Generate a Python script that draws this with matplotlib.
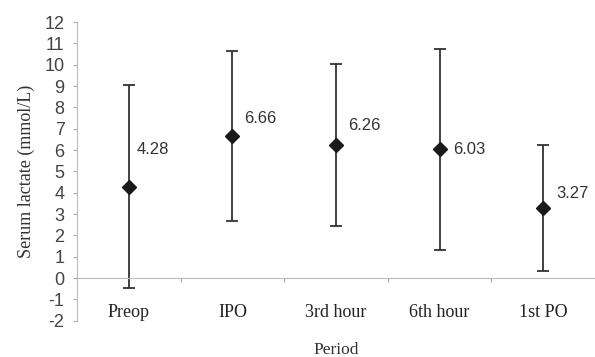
import numpy as np
import matplotlib.pyplot as plt

PERIODS = ['Preop', 'IPO', '3rd hour', '6th hour', '1st PO']
MEANS = [4.28, 6.66, 6.26, 6.03, 3.27]
SDS = [4.77, 3.97, 3.80, 4.70, 2.95]
LABELS = ['4.28', '6.66', '6.26', '6.03', '3.27']

# label offsets in pixels (dx, dy), placed by hand like the original
LABEL_OFFSETS = [(8, 37), (12, 18), (12, 19), (14, 0), (13, 15)]

plt.rcParams['font.family'] = 'Liberation Sans'
plt.rcParams['axes.unicode_minus'] = False


def main():
    fig = plt.figure(figsize=(5.95, 3.57), dpi=100)
    ax = fig.add_axes([77 / 595, 0.1017, 1 - 77 / 595, 0.938 - 0.1017])
    # spine position first: moving a spine resets the ticks
    ax.spines['top'].set_visible(False)
    ax.spines['right'].set_visible(False)
    ax.spines['bottom'].set_position(('data', 0))
    ax.spines['bottom'].set_color('#bbbbbb')
    ax.spines['left'].set_color('#bbbbbb')

    x = np.arange(len(PERIODS))
    ax.errorbar(x, MEANS, yerr=SDS, fmt='none', ecolor='#333333',
                elinewidth=1.3, capsize=4.3, capthick=1.3, zorder=2)
    ax.plot(x, MEANS, 'D', color='#1a1a1a', markersize=7, zorder=3)
    for xi, m, lab, off in zip(x, MEANS, LABELS, LABEL_OFFSETS):
        ax.annotate(lab, (xi, m), xytext=(off[0] * 0.72, off[1] * 0.72),
                    textcoords='offset points', ha='left', va='center',
                    fontsize=12, color='#333333')

    ax.set_xlim(-0.5, len(PERIODS) - 0.5)
    ax.set_ylim(-2, 12)
    ax.set_yticks(range(-2, 13))
    ax.tick_params(axis='y', labelsize=13, labelcolor='#444444',
                   color='#aaaaaa', length=3, width=0.8, pad=6)
    ax.set_xticks(x)
    ax.set_xticks(np.arange(0.5, len(PERIODS) - 0.5), minor=True)
    ax.tick_params(axis='x', which='major', length=0, pad=19)
    ax.tick_params(axis='x', which='minor', length=3, color='#aaaaaa',
                   width=0.8)
    ax.set_xticklabels(PERIODS, family='Liberation Serif', fontsize=13,
                       color='#222222')

    ax.set_ylabel('Serum lactate (mmol/L)', family='Liberation Serif',
                  fontsize=13, color='#333333', labelpad=7)
    fig.text(336 / 595, 1 - 350 / 357, 'Period', family='Liberation Serif',
             fontsize=12.5, color='#333333', ha='center', va='center')
    fig.savefig('out.png', dpi=100)


if __name__ == "__main__":
    main()
